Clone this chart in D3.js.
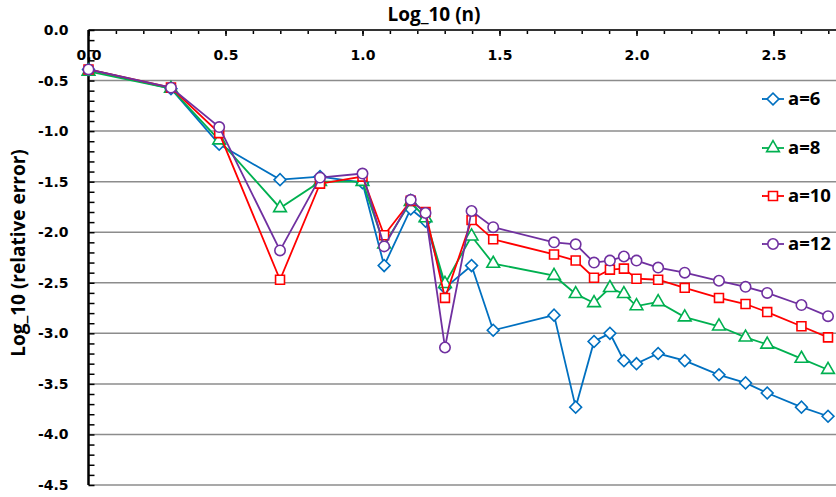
<!DOCTYPE html>
<html>
<head>
<meta charset="utf-8">
<script src="https://cdn.jsdelivr.net/npm/d3@7"></script>
<style>
  body { margin: 0; background: #fff; }
  svg { display: block; }
</style>
</head>
<body>
<svg id="chart" width="836" height="497"></svg>
<script>
// log10(n) positions
var logN = [0, 0.301, 0.477, 0.699, 0.845, 1.0, 1.079, 1.176, 1.230, 1.301, 1.398, 1.477,
            1.699, 1.778, 1.845, 1.903, 1.954, 2.0, 2.079, 2.176, 2.301, 2.398, 2.477, 2.602, 2.699];

var a6  = [-0.39, -0.58, -1.13, -1.48, -1.45, -1.51, -2.33, -1.77, -1.89, -2.55, -2.33, -2.97,
           -2.82, -3.73, -3.08, -3.00, -3.27, -3.30, -3.20, -3.27, -3.41, -3.49, -3.59, -3.73, -3.82];
var a8  = [-0.41, -0.58, -1.09, -1.76, -1.50, -1.50, -2.12, -1.70, -1.86, -2.51, -2.04, -2.31,
           -2.43, -2.61, -2.70, -2.55, -2.61, -2.73, -2.69, -2.84, -2.93, -3.04, -3.11, -3.25, -3.36];
var a10 = [-0.39, -0.57, -1.02, -2.47, -1.52, -1.45, -2.03, -1.69, -1.80, -2.65, -1.88, -2.07,
           -2.22, -2.28, -2.45, -2.37, -2.36, -2.46, -2.47, -2.55, -2.65, -2.71, -2.79, -2.93, -3.04];
var a12 = [-0.39, -0.57, -0.96, -2.18, -1.46, -1.42, -2.14, -1.68, -1.81, -3.14, -1.79, -1.95,
           -2.10, -2.12, -2.30, -2.28, -2.24, -2.28, -2.35, -2.40, -2.48, -2.54, -2.60, -2.72, -2.83];

var seriesNames = ['a=6', 'a=8', 'a=10', 'a=12'];
var xTicks = [0, 0.5, 1.0, 1.5, 2.0, 2.5];
var yTicks = [0, -0.5, -1.0, -1.5, -2.0, -2.5, -3.0, -3.5, -4.0, -4.5];

var cols = ['#0070C0', '#00B050', '#FF0000', '#7030A0'];
// diamond = square turned 45 degrees
var shapes = [d3.symbolSquare, d3.symbolTriangle, d3.symbolSquare, d3.symbolCircle];
var turns = [45, 0, 0, 0];
var sizes = [70, 70, 80, 85];

var svg = d3.select('#chart');
var padL = 88.5, padT = 30;
var fmt = function(d){ return d3.format('.1f')(d).replace('\u2212', '-'); };

var x = d3.scaleLinear().domain([0, 3]).range([padL, padL + 3 * 274]);
var y = d3.scaleLinear().domain([0, -4.5]).range([padT, 485]);

// gridlines
svg.append('g').selectAll('line')
  .data(yTicks.filter(function(d){ return d != 0; }))
  .enter().append('line')
  .attr('x1', padL).attr('x2', 836)
  .attr('y1', function(d){ return y(d); }).attr('y2', function(d){ return y(d); })
  .attr('stroke', '#8c8c8c').attr('stroke-width', 1.5);

// x axis (top, ticks pointing down)
var xMinor = d3.range(0, 31).map(function(i){ return i / 10; });
svg.append('g').attr('transform', 'translate(0,' + padT + ')')
  .call(d3.axisBottom(x).tickValues(xMinor).tickSize(4).tickFormat(''))
  .call(function(g){ g.select('.domain').remove(); g.selectAll('line').attr('stroke', '#000').attr('stroke-width', 1.5); });
svg.append('g').attr('transform', 'translate(0,' + padT + ')')
  .call(d3.axisBottom(x).tickValues(xTicks).tickSize(6).tickPadding(14).tickFormat(fmt))
  .call(function(g){
    g.select('.domain').remove();
    g.selectAll('line').attr('stroke', '#000').attr('stroke-width', 1.5);
    g.selectAll('text').attr('font-family', 'DejaVu Sans').attr('font-weight', 'bold')
      .attr('font-size', 14).attr('fill', '#000');
  });
svg.append('line').attr('x1', padL).attr('x2', 836).attr('y1', padT).attr('y2', padT)
  .attr('stroke', '#333').attr('stroke-width', 2);

// y axis
var yMinor = d3.range(0, 46).map(function(i){ return -i / 10; });
svg.append('g').attr('transform', 'translate(' + padL + ',0)')
  .call(d3.axisRight(y).tickValues(yMinor).tickSize(6).tickFormat(''))
  .call(function(g){ g.select('.domain').remove(); g.selectAll('line').attr('stroke', '#000').attr('stroke-width', 1.5); });
svg.append('g').attr('transform', 'translate(' + padL + ',0)')
  .call(d3.axisLeft(y).tickValues(yTicks).tickSize(0).tickPadding(20).tickFormat(fmt))
  .call(function(g){
    g.select('.domain').remove();
    g.selectAll('text').attr('font-family', 'DejaVu Sans').attr('font-weight', 'bold')
      .attr('font-size', 14).attr('fill', '#000');
  });
svg.append('line').attr('x1', padL).attr('x2', padL).attr('y1', padT).attr('y2', 485)
  .attr('stroke', '#000').attr('stroke-width', 2.5);

// titles
svg.append('text').attr('x', 434).attr('y', 21).attr('text-anchor', 'middle')
  .attr('font-family', 'Open Sans').attr('font-weight', 'bold').attr('font-size', 19)
  .text('Log_10 (n)');
svg.append('text').attr('transform', 'translate(25,253) rotate(-90)').attr('text-anchor', 'middle')
  .attr('font-family', 'Open Sans').attr('font-weight', 'bold').attr('font-size', 19)
  .text('Log_10 (relative error)');

// series
var allSeries = [a6, a8, a10, a12];
var line = d3.line().x(function(d){ return x(d[0]); }).y(function(d){ return y(d[1]); });

allSeries.forEach(function(vals, si){
  var pts = logN.map(function(v, i){ return [v, vals[i]]; });
  var g = svg.append('g');
  g.append('path').datum(pts).attr('d', line)
    .attr('fill', 'none').attr('stroke', cols[si]).attr('stroke-width', 1.8);
  g.selectAll('path.mk').data(pts).enter().append('path')
    .attr('class', 'mk')
    .attr('transform', function(d){ return 'translate(' + x(d[0]) + ',' + y(d[1]) + ') rotate(' + turns[si] + ')'; })
    .attr('d', d3.symbol().type(shapes[si]).size(sizes[si]))
    .attr('fill', '#fff').attr('stroke', cols[si]).attr('stroke-width', 1.6);
});

// legend
var legY = [99, 148, 196, 244];
seriesNames.forEach(function(name, i){
  var g = svg.append('g').attr('transform', 'translate(762,' + legY[i] + ')');
  g.append('line').attr('x1', 0).attr('x2', 22).attr('y1', 0).attr('y2', 0)
    .attr('stroke', cols[i]).attr('stroke-width', 1.8);
  g.append('path').attr('transform', 'translate(11,0) rotate(' + turns[i] + ')')
    .attr('d', d3.symbol().type(shapes[i]).size(sizes[i]))
    .attr('fill', '#fff').attr('stroke', cols[i]).attr('stroke-width', 1.6);
  g.append('text').attr('x', 26).attr('y', 6)
    .attr('font-family', 'Open Sans').attr('font-weight', 'bold').attr('font-size', 18.5)
    .text(name);
});
</script>
</body>
</html>
